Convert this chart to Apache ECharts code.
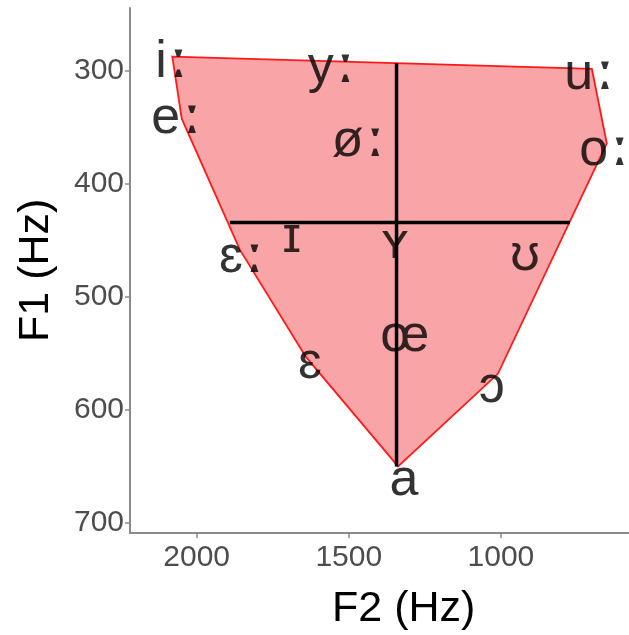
<!DOCTYPE html>
<html>
<head>
<meta charset="utf-8">
<script src="https://cdn.jsdelivr.net/npm/echarts@6/dist/echarts.min.js"></script>
<style>
  html, body { margin: 0; padding: 0; background: #fff; }
  #main { width: 629px; height: 635px; }
</style>
</head>
<body>
<div id="main"></div>
<script>
// vowel labels: [F2, F1]
var vowels = ['i', 'y', 'u', 'e', 'ø', 'o', 'ɛ', 'ɪ', 'ʏ', 'ʊ', 'œ', 'ɛ', 'ɔ', 'a'];
var vowelLong = [true, true, true, true, true, true, true, false, false, false, false, false, false, false];
var vowelF2 = [2084, 1559, 711, 2068, 1470, 662, 1854, 1687, 1348, 921, 1316, 1628, 1030, 1319];
var vowelF1 = [292, 297, 303, 342, 362, 370, 465, 447, 453, 463, 535, 559, 580, 663];

// vowel space outline (peripheral vowels)
var hullF2 = [2080, 701, 652, 1010, 1338, 1641, 1858, 2049];
var hullF1 = [287, 298, 364, 568, 650, 553, 458, 342];

// centre cross
var crossH = [[1891, 434], [773, 434]];
var crossV = [[1343, 293], [1343, 650]];

var xTicks = [2000, 1500, 1000];
var yTicks = [300, 400, 500, 600, 700];

var font = "'Liberation Sans', Arial, sans-serif";

var chart = echarts.init(document.getElementById('main'));

var labelData = vowels.map(function (v, i) {
    return { value: [vowelF2[i], vowelF1[i]], name: v, long: vowelLong[i] };
});
var hullData = hullF2.map(function (x, i) { return [x, hullF1[i]]; });

chart.setOption({
    animation: false,
    grid: { left: 130, right: 0, top: 8, bottom: 102 },
    xAxis: {
        type: 'value',
        inverse: true,
        min: 579,
        max: 2219,
        splitLine: { show: false },
        axisLine: { show: true, lineStyle: { color: '#8a8a8a', width: 2 } },
        axisTick: { show: true, length: 5, lineStyle: { color: '#8a8a8a', width: 1.5 }, customValues: xTicks },
        axisLabel: {
            fontFamily: font, fontSize: 30, color: '#4d4d4d', margin: 10, customValues: xTicks,
            formatter: function (v) { return String(v); }
        }
    },
    yAxis: {
        type: 'value',
        inverse: true,
        min: 244,
        max: 709,
        splitLine: { show: false },
        axisLine: { show: true, lineStyle: { color: '#8a8a8a', width: 2 } },
        axisTick: { show: true, length: 5, lineStyle: { color: '#8a8a8a', width: 1.5 }, customValues: yTicks },
        axisLabel: {
            fontFamily: font, fontSize: 30, color: '#4d4d4d', margin: 6, customValues: yTicks,
            formatter: function (v) { return String(v); }
        }
    },
    graphic: [
        {
            type: 'text', left: 332, top: 588,
            style: { text: 'F2 (Hz)', fontFamily: font, fontSize: 43, fill: '#000' }
        },
        {
            type: 'text', x: 15, y: 342, rotation: Math.PI / 2,
            style: { text: 'F1 (Hz)', fontFamily: font, fontSize: 43, fill: '#000', verticalAlign: 'top' }
        }
    ],
    series: [
        {
            type: 'custom',
            z: 1,
            data: hullData,
            renderItem: function (params, api) {
                if (params.dataIndex !== 0) return;
                var pts = hullData.map(function (p) { return api.coord(p); });
                return {
                    type: 'polygon',
                    shape: { points: pts },
                    style: { fill: '#f9a4a6', stroke: '#ff1a1a', lineWidth: 1.8 }
                };
            }
        },
        {
            type: 'line', z: 2, data: crossH, symbol: 'none',
            lineStyle: { color: '#000', width: 3.5 }
        },
        {
            type: 'line', z: 2, data: crossV, symbol: 'none',
            lineStyle: { color: '#000', width: 3.5 }
        },
        {
            type: 'scatter',
            z: 3,
            symbolSize: 1,
            itemStyle: { color: 'rgba(0,0,0,0)' },
            data: labelData,
            label: {
                show: true,
                position: 'inside',
                formatter: function (p) {
                    return '{v|' + p.name + '}' + (p.data.long ? '{m|ː}' : '');
                },
                rich: {
                    v: { fontFamily: font, fontSize: 52, color: '#000' },
                    m: { fontFamily: font, fontSize: 52, fontWeight: 'bold', color: '#000', padding: [0, 0, 0, 3] }
                }
            }
        }
    ]
});
</script>
</body>
</html>
